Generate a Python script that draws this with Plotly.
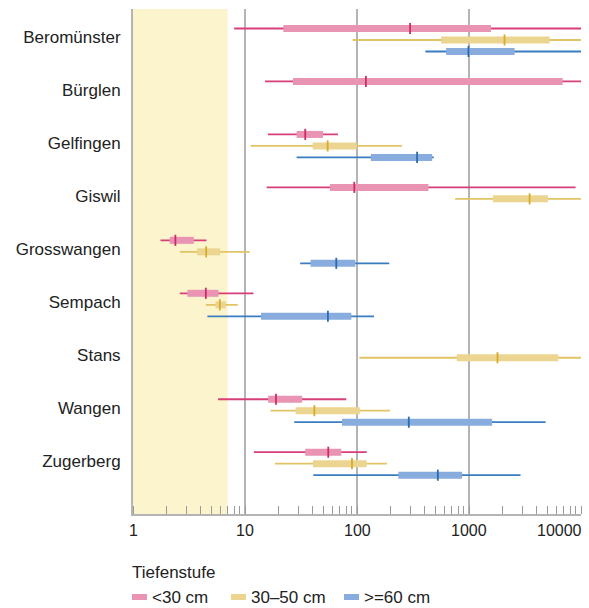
import math
import plotly.graph_objects as go

# Sites (top to bottom) and the three depth levels
sites = ["Beromünster", "Bürglen", "Gelfingen", "Giswil", "Grosswangen",
         "Sempach", "Stans", "Wangen", "Zugerberg"]
depths = ["<30 cm", "30–50 cm", ">=60 cm"]

# Per depth: [min, q1, median, q3, max] for each site (None = no data)
stats_lt30 = [
    [8.0, 22, 298, 1570, 15000],
    [15.1, 26.8, 120, 6850, 15000],
    [16.0, 28.9, 34.5, 49.7, 67.6],
    [15.6, 57.3, 94.6, 434, 8950],
    [1.76, 2.13, 2.39, 3.49, 4.53],
    [2.62, 3.06, 4.47, 5.80, 11.9],
    None,
    [5.75, 16.1, 18.9, 32.4, 80.2],
    [12.0, 34.5, 55.4, 72.4, 122],
]
stats_30_50 = [
    [91.5, 564, 2075, 5240, 15000],
    None,
    [11.2, 40.2, 54.7, 99.4, 252],
    [752, 1634, 3474, 5070, 15000],
    [2.62, 3.73, 4.5, 6.0, 11.0],
    [4.47, 5.45, 5.96, 6.74, 8.63],
    [105, 778, 1796, 6270, 15000],
    [16.9, 28.3, 41.6, 106, 197],
    [18.5, 40.4, 90.2, 122, 185],
]
stats_ge60 = [
    [408, 625, 989, 2553, 15000],
    None,
    [28.9, 133, 344, 469, 485],
    None,
    [31.1, 38.5, 65.3, 96.6, 194],
    [4.62, 13.9, 55, 89, 142],
    None,
    [27.5, 73.5, 290, 1610, 4830],
    [40.7, 234, 527, 868, 2884],
]
all_stats = [stats_lt30, stats_30_50, stats_ge60]

# Shaded low range on the x axis
band_range = [1, 7]

x_ticks = [1, 10, 100, 1000, 10000]
x_labels = ["1", "10", "100", "1000", "10000"]

box_colors = ["#e994b3", "#ecd590", "#87acdd"]
line_colors = ["#d83e78", "#e1c463", "#3a7cc0"]
tick_colors = ["#cf2a64", "#d6ac2c", "#2b6bb0"]

FONT = "Liberation Sans, Arial, sans-serif"
TXT = "#222222"
GRID = "#b4b4b4"

row_step = 0.217     # vertical offset between depth rows inside a site group
med_half = 0.105     # half height of the median tick
y_top, y_bottom = -0.585, 8.95

W, H = 589, 608
ml, mr, mt, mb = 133, 8, 9, 94
pw, ph = W - ml - mr, H - mt - mb


def px_to_paper_x(px):
    return (px - ml) / pw


def px_to_paper_y(py):
    return (H - mb - py) / ph


fig = go.Figure()

# light yellow band
fig.add_trace(go.Scatter(
    x=[band_range[0], band_range[1], band_range[1], band_range[0], band_range[0]],
    y=[y_top, y_top, y_bottom, y_bottom, y_top],
    fill="toself", fillcolor="#fbf4cd", mode="lines",
    line=dict(width=0), hoverinfo="skip", showlegend=False))

for d, stats in enumerate(all_stats):
    wx, wy, bx, by, mx, my = [], [], [], [], [], []
    for g, s in enumerate(stats):
        if s is None:
            continue
        y = g + (d - 1) * row_step
        lo, q1, med, q3, hi = s
        wx += [lo, hi, None]; wy += [y, y, None]
        bx += [q1, q3, None]; by += [y, y, None]
        mx += [med, med, None]; my += [y - med_half, y + med_half, None]
    fig.add_trace(go.Scatter(x=wx, y=wy, mode="lines",
                             line=dict(color=line_colors[d], width=1.8),
                             showlegend=False, hoverinfo="skip"))
    fig.add_trace(go.Scatter(x=bx, y=by, mode="lines",
                             line=dict(color=box_colors[d], width=7),
                             name=depths[d], showlegend=False))
    fig.add_trace(go.Scatter(x=mx, y=my, mode="lines",
                             line=dict(color=tick_colors[d], width=1.8),
                             showlegend=False, hoverinfo="skip"))

# x tick labels (last one kept inside the page)
for v, lab in zip(x_ticks, x_labels):
    last = v == x_ticks[-1]
    fig.add_annotation(
        x=math.log10(v), xref="x", y=px_to_paper_y(530), yref="paper",
        text=lab, showarrow=False, yanchor="middle",
        xanchor="right" if last else "center", xshift=3 if last else 0,
        font=dict(family=FONT, size=16, color=TXT))

# legend: title, swatches and labels
fig.add_annotation(x=px_to_paper_x(130), xref="paper", y=px_to_paper_y(572), yref="paper",
                   text="Tiefenstufe", showarrow=False, xanchor="left", yanchor="middle",
                   font=dict(family=FONT, size=17, color=TXT))
legend_x = [132, 231, 344]
shapes = []
for d in range(3):
    x0 = legend_x[d]
    shapes.append(dict(type="rect", xref="paper", yref="paper",
                       x0=px_to_paper_x(x0), x1=px_to_paper_x(x0 + 15),
                       y0=px_to_paper_y(600), y1=px_to_paper_y(594),
                       fillcolor=box_colors[d], line=dict(width=0)))
    fig.add_annotation(x=px_to_paper_x(x0 + 18), xref="paper",
                       y=px_to_paper_y(597), yref="paper", text=depths[d],
                       showarrow=False, xanchor="left", yanchor="middle",
                       font=dict(family=FONT, size=17, color=TXT))

fig.update_layout(
    width=W, height=H,
    margin=dict(l=ml, r=mr, t=mt, b=mb, autoexpand=False),
    paper_bgcolor="white", plot_bgcolor="white",
    showlegend=False, shapes=shapes,
    xaxis=dict(type="log", range=[0, 4], tickvals=x_ticks, showticklabels=False,
               showgrid=True, gridcolor=GRID, gridwidth=2,
               showline=True, linecolor=GRID, linewidth=2, mirror=False,
               ticks="", zeroline=False, automargin=False,
               minor=dict(ticks="inside", ticklen=8, tickwidth=1,
                          tickcolor="#9a9a9a", dtick="D1", showgrid=False)),
    yaxis=dict(range=[y_bottom, y_top],
               tickvals=[g - 0.05 for g in range(len(sites))], ticktext=sites,
               showgrid=False, zeroline=False, ticks="", automargin=False,
               showline=True, linecolor=GRID, linewidth=2,
               ticklabelstandoff=7,
               tickfont=dict(family=FONT, size=17, color=TXT)),
)

fig.write_html("out.html")
